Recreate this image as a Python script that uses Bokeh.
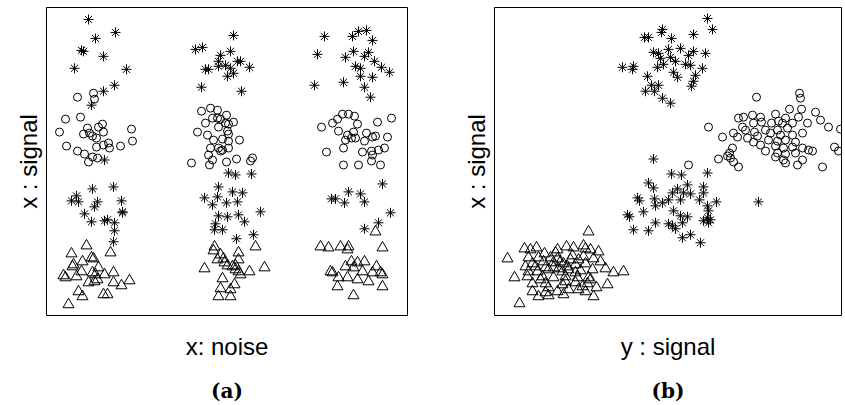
from bokeh.plotting import figure
from bokeh.layouts import row
from bokeh.models import Range1d, FixedTicker, LinearAxis
from bokeh.embed import file_html
from bokeh.resources import INLINE

# ---------------- Panel (a): x: noise vs x : signal ----------------
a_ast_x = [42, 69, 49, 35, 37, 57, 28, 80, 68, 57, 45, 58,
           46, 67, 30, 25, 32, 51, 48, 75, 76, 76, 38, 45, 58, 61, 68, 68, 67,
           187, 149, 156, 184, 174, 172, 179, 191, 194, 159, 162, 172, 184, 203, 187, 181, 155, 195,
           182, 189, 205, 172, 186, 196, 158, 171, 166, 180, 191, 214, 172, 181, 192, 198, 169, 168, 176, 190, 207,
           278, 306, 312, 320, 326, 271, 307, 299, 318, 322, 328, 309, 314, 335, 314, 326, 268, 297, 318, 324, 343,
           336, 302, 314, 285, 289, 298, 318, 344, 332, 318]
a_ast_y = [297, 284, 278, 266, 265, 260, 248, 247, 231, 225, 211, 156,
           127, 129, 120, 115, 114, 114, 109, 115, 104, 103, 102, 94, 95, 96, 93, 85, 74,
           281, 267, 269, 265, 261, 255, 251, 255, 255, 247, 247, 250, 248, 249, 243, 240, 229, 225,
           143, 141, 142, 129, 124, 123, 118, 119, 111, 113, 114, 104, 100, 99, 101, 94, 92, 86, 86, 77, 81,
           280, 280, 285, 286, 276, 262, 265, 259, 260, 264, 255, 250, 248, 249, 240, 239, 231, 234, 229, 219, 244,
           132, 124, 122, 117, 117, 113, 114, 103, 93, 87]

a_cir_x = [47, 31, 48, 19, 34, 13, 41, 56, 52, 37, 43, 46, 50, 57, 85, 86, 20, 31, 38, 50, 57, 62, 63, 74, 46, 51, 42,
           155, 164, 171, 166, 171, 174, 180, 159, 179, 182, 187, 172, 181, 151, 161, 182, 167, 176, 182, 193,
           164, 172, 174, 176, 182, 162, 166, 180, 190, 204, 206, 145, 163,
           296, 302, 308, 291, 286, 311, 275, 331, 292, 301, 307, 320, 299, 305, 309, 318, 326, 329, 341,
           297, 280, 316, 325, 332, 338, 326, 325, 297, 312, 334, 345]
a_cir_y = [223, 219, 217, 197, 199, 184, 188, 192, 189, 182, 183, 180, 178, 184, 187, 175, 170, 165, 162, 169, 171, 173, 168, 170, 159, 158, 154,
           205, 208, 206, 198, 198, 197, 201, 193, 193, 192, 194, 189, 185, 184, 181, 182, 176, 177, 175, 176,
           168, 168, 165, 166, 168, 161, 156, 154, 157, 155, 158, 153, 151,
           202, 202, 200, 197, 193, 192, 189, 194, 185, 181, 184, 183, 176, 178, 178, 175, 179, 180, 179,
           168, 164, 164, 165, 166, 168, 161, 155, 151, 151, 151, 198]

a_tri_x = [40, 25, 64, 45, 47, 36, 27, 52, 26, 35, 46, 17, 30, 49, 58, 67, 19, 42, 48, 51, 67, 75, 83, 32, 36, 57, 61, 22,
           168, 209, 167, 174, 192, 171, 177, 178, 192, 158, 181, 186, 189, 189, 192, 194, 203, 218, 176, 188, 174, 184, 172, 184,
           329, 274, 282, 294, 302, 301, 336, 305, 311, 318, 299, 307, 330, 284, 286, 316, 326, 334, 336, 292, 301, 311, 322, 291, 336, 307]
a_tri_y = [70, 62, 63, 58, 57, 54, 51, 48, 49, 44, 43, 40, 39, 41, 41, 43, 38, 33, 34, 36, 33, 30, 35, 24, 19, 21, 21, 11,
           69, 69, 65, 61, 63, 56, 57, 53, 56, 47, 50, 49, 50, 46, 44, 41, 44, 48, 37, 31, 27, 26, 19, 19,
           84, 69, 68, 69, 69, 66, 68, 54, 53, 54, 49, 48, 49, 44, 43, 44, 43, 43, 41, 38, 38, 36, 34, 29, 29, 20]

# ---------------- Panel (b): y : signal vs x : signal ----------------
b_tri_x = [94, 13, 30, 42, 50, 63, 72, 79, 89, 91, 96, 104, 34, 44, 56, 63, 78, 89, 99, 38, 49, 59, 69, 81, 91,
           34, 43, 54, 64, 74, 86, 98, 111, 119, 129, 20, 33, 48, 59, 71, 83, 94, 38, 51, 68, 81, 93, 113,
           38, 51, 63, 74, 91, 44, 54, 69, 99, 25, 59, 68, 73, 84, 41, 61, 81, 88, 31, 54,
           66, 76, 51, 96, 106, 46, 71, 84, 102, 36]
b_tri_y = [84, 57, 67, 68, 62, 66, 69, 68, 70, 67, 66, 64, 58, 58, 58, 57, 60, 59, 57, 52, 54, 53, 52, 51, 52,
           44, 44, 46, 47, 46, 45, 46, 47, 43, 44, 38, 39, 39, 38, 39, 38, 38, 32, 32, 31, 33, 32, 31,
           24, 23, 24, 26, 24, 19, 20, 21, 19, 12, 48, 44, 49, 56, 49, 63, 43, 29, 49, 28,
           54, 56, 48, 36, 54, 36, 34, 26, 28, 66]

b_ast_x = [159, 213, 177, 187, 154, 159, 193, 209, 183, 178, 189, 196, 209, 143, 145, 160, 174, 186, 205, 222, 264,
           168, 161, 213, 214, 149, 179, 133, 135, 186, 193, 213, 216, 209, 161, 174, 178, 188, 214, 139, 154, 181,
           188, 196, 206,
           213, 218, 168, 167, 150, 154, 199, 177, 186, 174, 159, 164, 199, 211, 194, 166, 176, 181, 191, 196,
           128, 139, 138, 163, 169, 208, 179, 183, 201, 153, 199, 157, 164, 151, 160, 197, 168, 176]
b_ast_y = [157, 143, 142, 141, 133, 128, 131, 129, 127, 123, 123, 122, 123, 118, 115, 117, 116, 116, 116, 114, 114,
           113, 110, 110, 105, 104, 105, 101, 99, 100, 99, 98, 96, 95, 93, 92, 90, 93, 93, 86, 85, 87,
           78, 81, 73,
           298, 287, 287, 284, 279, 279, 282, 278, 268, 267, 264, 263, 265, 263, 261, 258, 259, 255, 252, 251,
           249, 250, 247, 249, 252, 248, 244, 239, 241, 240, 235, 231, 231, 225, 225, 230, 218, 213]

b_cir_x = [194, 236, 262, 305, 306, 214, 244, 249, 258, 266, 281, 295, 307, 321, 304, 291, 284, 326,
           248, 259, 267, 277, 288, 298, 313, 334, 346, 251, 260, 271, 283, 293, 239, 228, 243, 253, 263,
           276, 286, 298, 308, 274, 283, 291, 301, 259, 266, 281, 289, 298, 308, 314, 318, 340, 344,
           238, 235, 271, 283, 291, 301, 233, 224, 281, 289, 308, 239, 244, 291, 303, 328]
b_cir_y = [151, 158, 219, 223, 218, 189, 198, 199, 201, 199, 202, 207, 207, 204, 199, 198, 195, 196,
           189, 193, 194, 193, 193, 193, 193, 189, 187, 186, 184, 186, 186, 188, 183, 179, 179, 178, 180,
           183, 181, 181, 183, 176, 175, 176, 174, 174, 171, 170, 168, 169, 168, 166, 165, 169, 165,
           168, 163, 165, 163, 162, 163, 160, 157, 159, 156, 156, 154, 149, 153, 151, 149]

LABEL_FONT = "Liberation Sans"
CAP_FONT = "DejaVu Serif"


def make_panel(width, min_left, min_right, xr, yr, xlabel, ylabel, caption):
    p = figure(width=width, height=405, x_range=Range1d(0, xr), y_range=Range1d(0, yr),
               output_backend="svg", toolbar_location=None,
               min_border_left=min_left, min_border_right=min_right,
               min_border_top=7, min_border_bottom=89)
    p.grid.visible = False
    p.outline_line_color = "black"
    p.outline_line_width = 1
    p.outline_line_alpha = 1
    p.background_fill_color = "white"
    p.border_fill_color = "white"
    for ax in p.axis:
        ax.ticker = FixedTicker(ticks=[])
        ax.major_tick_out = 0
        ax.major_tick_in = 0
        ax.minor_tick_out = 0
        ax.minor_tick_in = 0
        ax.major_label_standoff = 0
        ax.axis_line_color = None
        ax.axis_label_text_font = LABEL_FONT
        ax.axis_label_text_font_size = "24px"
        ax.axis_label_text_font_style = "normal"
        ax.axis_label_text_color = "black"
    p.xaxis.axis_label = xlabel
    p.xaxis.axis_label_standoff = 17
    p.yaxis.axis_label = ylabel
    p.yaxis.axis_label_standoff = 5
    cap = LinearAxis(ticker=FixedTicker(ticks=[]), axis_label=caption,
                     major_tick_out=0, major_tick_in=0, minor_tick_out=0, minor_tick_in=0,
                     major_label_standoff=0, axis_line_color=None,
                     axis_label_text_font=CAP_FONT, axis_label_text_font_size="20px",
                     axis_label_text_font_style="bold", axis_label_text_color="black",
                     axis_label_standoff=16)
    p.add_layout(cap, "below")
    return p


p1 = make_panel(420, 46, 13, 361, 309, "x: noise", "x : signal", "(a)")
p2 = make_panel(425, 74, 4, 347, 309, "y : signal", "x : signal", "(b)")

style = dict(fill_color=None, line_color="black", line_width=1)
p1.scatter(a_tri_x, a_tri_y, marker="triangle", size=11, **style)
p1.scatter(a_cir_x, a_cir_y, marker="circle", size=8, **style)
p1.scatter(a_ast_x, a_ast_y, marker="asterisk", size=10, **style)

p2.scatter(b_tri_x, b_tri_y, marker="triangle", size=11, **style)
p2.scatter(b_cir_x, b_cir_y, marker="circle", size=8, **style)
p2.scatter(b_ast_x, b_ast_y, marker="asterisk", size=10, **style)

layout = row(p1, p2)
open("out.html", "w").write(file_html(layout, INLINE))
